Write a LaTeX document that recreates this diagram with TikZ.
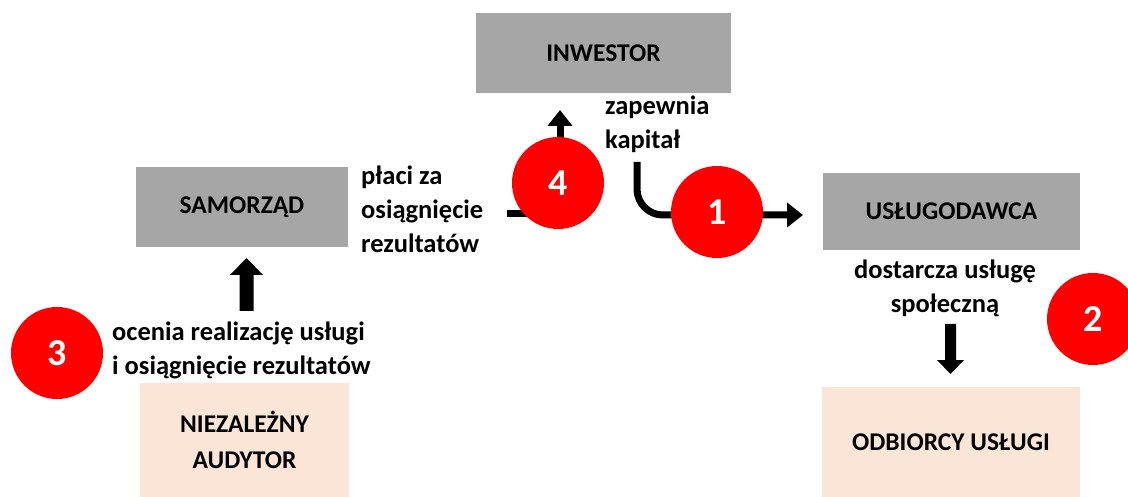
\documentclass[tikz,border=0pt]{standalone}
\usepackage{fontspec}
\setmainfont{Carlito}
\usetikzlibrary{arrows.meta}
\definecolor{boxgray}{HTML}{A6A6A6}
\definecolor{peach}{HTML}{FBE5D6}
\definecolor{markred}{HTML}{FF0000}
\tikzset{
  graybox/.style={fill=boxgray, draw=none, inner sep=0pt, font=\bfseries\fontsize{25.5}{30}\selectfont, align=center},
  peachbox/.style={fill=peach, draw=none, inner sep=0pt, font=\bfseries\fontsize{25.5}{36}\selectfont, align=center},
  lbl/.style={inner sep=0pt, font=\bfseries\fontsize{26.5}{34}\selectfont},
  marker/.style={circle, fill=markred, draw=none, minimum size=92pt, inner sep=0pt, text=white, font=\bfseries\fontsize{38}{38}\selectfont},
  flow/.style={line width=7pt, -{Triangle[length=16pt,width=24pt]}},
  blockarrow/.style={fill=black, draw=none}
}
\begin{document}
\begin{tikzpicture}[x=1pt,y=-1pt]
\useasboundingbox (0,0) rectangle (1128,497);
% boxes
\node[graybox, minimum width=255pt, minimum height=80pt] (inv) at (603.5,53) {INWESTOR};
\node[graybox, minimum width=212pt, minimum height=80pt] (sam) at (242,207) {SAMORZĄD};
\node[graybox, minimum width=257pt, minimum height=77pt] (usl) at (951.5,211.5) {USŁUGODAWCA};
\node[peachbox, minimum width=209pt, minimum height=114pt] (aud) at (244.5,440) {NIEZALEŻNY\\AUDYTOR};
\node[peachbox, minimum width=258pt, minimum height=110pt] (odb) at (951,442) {ODBIORCY USŁUGI};
% labels
\node[lbl, anchor=west, align=left] (pay) at (361,209) {płaci za\\osiągnięcie\\rezultatów};
\node[lbl, anchor=west, align=left] (cap) at (605,124) {zapewnia\\kapitał};
\node[lbl, align=center] (del) at (945,288) {dostarcza usługę\\społeczną};
\node[lbl, anchor=west, align=left] (eval) at (112,350) {ocenia realizację usługi\\i osiągnięcie rezultatów};
% connectors
\coordinate (p4s) at (507,214);
\coordinate (p4c) at (560,214);
\coordinate (p4e) at (560,110);
\draw[flow] (p4s) -- (p4c) -- (p4e);
\coordinate (p1s) at (637,162);
\coordinate (p1c) at (637,215);
\coordinate (p1e) at (803,215);
\draw[flow, rounded corners=26pt] (p1s) -- (p1c) -- (p1e);
% block arrows
\fill[blockarrow] (239.5,311) -- (253.5,311) -- (253.5,275) -- (263,275) -- (246.5,258) -- (230,275) -- (239.5,275) -- cycle;
\fill[blockarrow] (945,324) -- (956,324) -- (956,360) -- (964,360) -- (950.5,374) -- (937,360) -- (945,360) -- cycle;
% markers
\node[marker] (m4) at (558,183) {4};
\node[marker] (m1) at (717,212) {1};
\node[marker] (m3) at (57,353) {3};
\node[marker] (m2) at (1093,319) {2};
\end{tikzpicture}
\end{document}
